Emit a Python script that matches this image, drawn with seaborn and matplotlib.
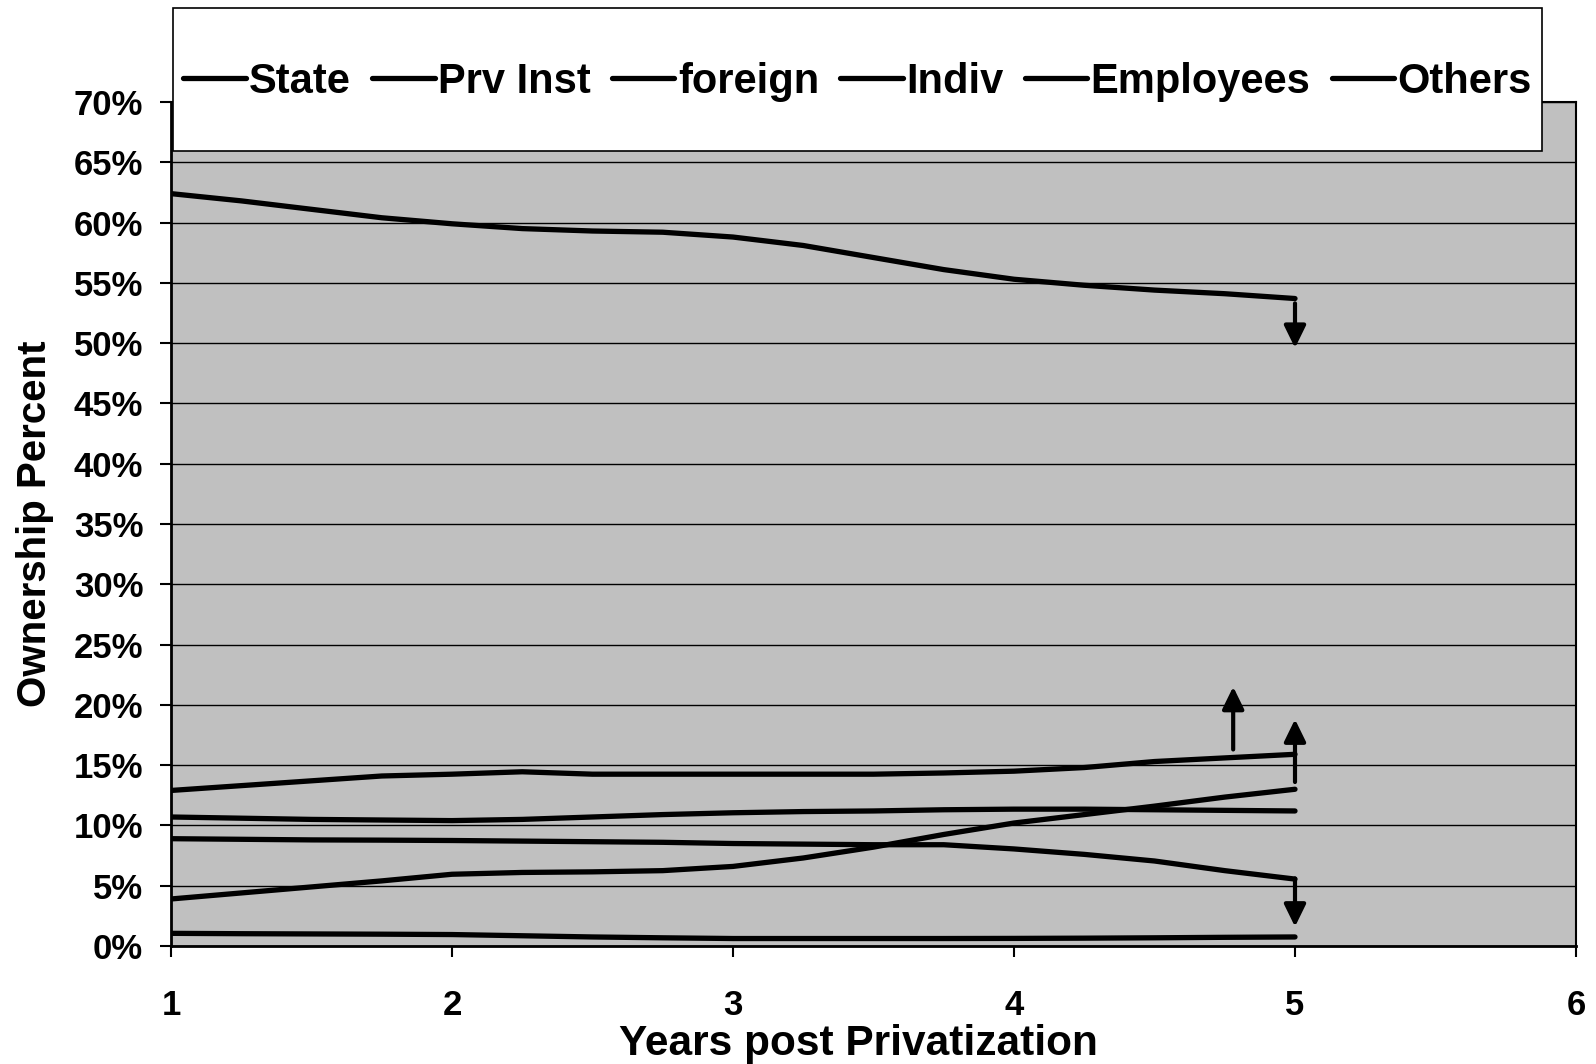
import matplotlib
matplotlib.use("Agg")
import matplotlib.pyplot as plt
from matplotlib.patches import Rectangle
from matplotlib.ticker import PercentFormatter, MultipleLocator
import seaborn as sns
import pandas as pd

# ===================== DATOS =====================

years = [1, 1.25, 1.5, 1.75, 2, 2.25, 2.5, 2.75, 3,
         3.25, 3.5, 3.75, 4, 4.25, 4.5, 4.75, 5]

state = [62.4, 61.8, 61.1, 60.4, 59.9, 59.5, 59.3, 59.2, 58.8,
         58.1, 57.1, 56.1, 55.3, 54.8, 54.4, 54.1, 53.7]
prv_inst = [12.9, 13.3, 13.7, 14.1, 14.25, 14.45, 14.25, 14.25, 14.25,
            14.25, 14.25, 14.35, 14.5, 14.8, 15.3, 15.6, 15.9]
foreign = [3.9, 4.4, 4.9, 5.4, 5.95, 6.1, 6.15, 6.25, 6.6,
           7.3, 8.2, 9.25, 10.2, 10.9, 11.6, 12.35, 13.0]
indiv = [10.7, 10.6, 10.5, 10.45, 10.4, 10.5, 10.7, 10.9, 11.05,
         11.15, 11.2, 11.3, 11.35, 11.35, 11.3, 11.25, 11.2]
employees = [8.9, 8.85, 8.8, 8.78, 8.75, 8.7, 8.65, 8.6, 8.5,
             8.45, 8.4, 8.4, 8.05, 7.6, 7.05, 6.25, 5.55]
others = [1.05, 1.02, 1.0, 0.98, 0.95, 0.85, 0.75, 0.68, 0.62,
          0.62, 0.62, 0.62, 0.63, 0.65, 0.68, 0.72, 0.75]

series_names = ["State", "Prv Inst", "foreign", "Indiv", "Employees", "Others"]

# flechas de tendencia (x, desde, hasta)
arrow_x = [5, 4.78, 5, 5]
arrow_from = [53.3, 16.3, 13.6, 5.6]
arrow_to = [49.6, 21.5, 18.8, 1.6]

# ===================== FIGURA =====================

df = pd.concat(
    [pd.DataFrame({"year": years, "pct": vals, "series": name})
     for name, vals in zip(series_names,
                           [state, prv_inst, foreign, indiv, employees, others])],
    ignore_index=True
)

sns.set_style("ticks")
plt.rcParams["font.family"] = ["Liberation Sans", "DejaVu Sans"]
plt.rcParams["font.weight"] = "bold"
plt.rcParams["text.color"] = "black"
plt.rcParams["axes.labelcolor"] = "black"
plt.rcParams["xtick.color"] = "black"
plt.rcParams["ytick.color"] = "black"

W, H = 1596, 1064
fig = plt.figure(figsize=(W / 100, H / 100), dpi=100)
ax = fig.add_axes([171 / W, 1 - 946 / H, 1405 / W, 844 / H])
ax.set_facecolor("#C0C0C0")

sns.lineplot(
    data=df, x="year", y="pct", hue="series", hue_order=series_names,
    palette=["black"] * 6, linewidth=3.8, ax=ax, legend=True
)
for ln in ax.get_lines():
    ln.set_solid_capstyle("round")
    ln.set_solid_joinstyle("round")

for xa, y0, y1 in zip(arrow_x, arrow_from, arrow_to):
    ax.annotate(
        "", xy=(xa, y1), xytext=(xa, y0),
        arrowprops=dict(arrowstyle="-|>,head_length=0.45,head_width=0.22",
                        color="black", lw=3.0, mutation_scale=30,
                        shrinkA=0, shrinkB=0)
    )

ax.set_xlim(1, 6)
ax.set_ylim(0, 70)
ax.xaxis.set_major_locator(MultipleLocator(1))
ax.yaxis.set_major_locator(MultipleLocator(5))
ax.yaxis.set_major_formatter(PercentFormatter(100, decimals=0))
ax.grid(axis="y", color="black", linewidth=1.0)
ax.grid(axis="x", visible=False)
ax.set_axisbelow(True)

for side, sp in ax.spines.items():
    sp.set_visible(True)
    sp.set_color("black")
    sp.set_linewidth(2.0 if side in ("left", "bottom") else 1.5)

ax.tick_params(axis="both", direction="out", length=8, width=1.5,
               color="black", labelcolor="black", labelsize=25)
ax.tick_params(axis="y", pad=12)
ax.tick_params(axis="x", pad=23)
for lab in ax.get_xticklabels() + ax.get_yticklabels():
    lab.set_fontweight("bold")

ax.set_xlabel("Years post Privatization", fontsize=30.5, fontweight="bold")
ax.xaxis.set_label_coords(0.489, -0.093)
ax.set_ylabel("Ownership Percent", fontsize=29, fontweight="bold", labelpad=14)

# caja blanca de la leyenda
fig.patches.append(Rectangle(
    (173 / W, 1 - 151 / H), 1369 / W, 143 / H, transform=fig.transFigure,
    facecolor="white", edgecolor="black", linewidth=1.2, zorder=4
))

handles, labels = ax.get_legend_handles_labels()
ax.get_legend().remove()
leg = fig.legend(
    handles, labels, loc="center",
    bbox_to_anchor=(183 / W, 1 - 103 / H, 1349 / W, 42 / H),
    mode="expand", ncol=6, frameon=False,
    borderpad=0, borderaxespad=0, handlelength=1.5, handletextpad=0.08,
    columnspacing=0.5, prop={"weight": "bold", "size": 30}
)
leg.set_zorder(5)
for h in leg.get_lines():
    h.set_linewidth(3.8)

fig.savefig("out.png", dpi=100)
plt.close("all")
